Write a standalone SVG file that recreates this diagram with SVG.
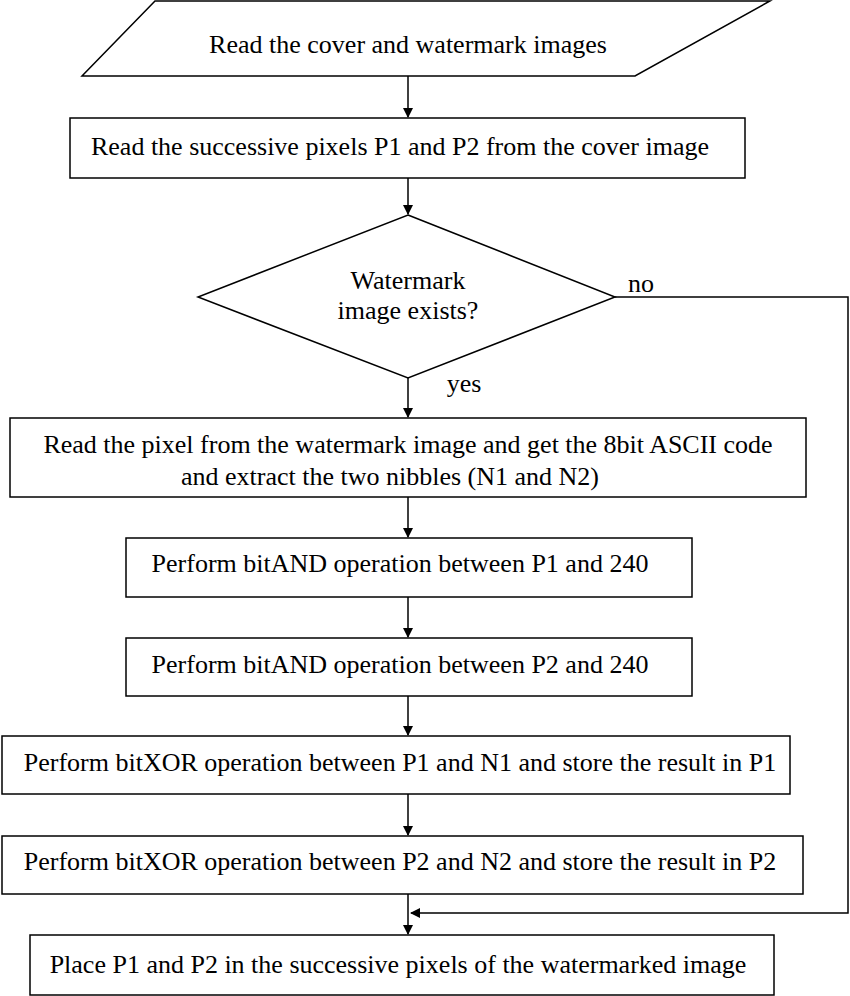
<svg xmlns="http://www.w3.org/2000/svg" width="850" height="996" viewBox="0 0 850 996">
<defs><marker id="a" markerWidth="10" markerHeight="10" refX="9" refY="5" orient="auto" markerUnits="userSpaceOnUse"><path d="M0,0L10,5L0,10z" fill="#000"/></marker></defs>
<style>.s{fill:#fff;stroke:#000;stroke-width:1.5}text{font-family:"Liberation Serif",serif;font-size:26px;text-anchor:middle}.c{stroke:#000;stroke-width:1.5;fill:none}</style>
<rect width="850" height="996" fill="#fff"/>
<g id="connectors">
<line class="c" x1="408" y1="76" x2="408" y2="117" marker-end="url(#a)"/>
<line class="c" x1="408" y1="178" x2="408" y2="214" marker-end="url(#a)"/>
<line class="c" x1="408" y1="378" x2="408" y2="417" marker-end="url(#a)"/>
<line class="c" x1="408" y1="497" x2="408" y2="537" marker-end="url(#a)"/>
<line class="c" x1="408" y1="597" x2="408" y2="637" marker-end="url(#a)"/>
<line class="c" x1="408" y1="696" x2="408" y2="735" marker-end="url(#a)"/>
<line class="c" x1="408" y1="794" x2="408" y2="835" marker-end="url(#a)"/>
<line class="c" x1="408" y1="894" x2="408" y2="934" marker-end="url(#a)"/>
<polyline class="c" points="615,297 848,297 848,913 411,913" marker-end="url(#a)"/>
<text x="641" y="292">no</text>
<text x="464" y="392">yes</text>
</g>
<g id="n1"><polygon class="s" points="155,1 770,1 635,76 82,76"/><text x="408" y="53">Read the cover and watermark images</text></g>
<g id="n2"><rect class="s" x="70" y="118" width="675" height="60"/><text x="400" y="155">Read the successive pixels P1 and P2 from the cover image</text></g>
<g id="n3"><polygon class="s" points="408,215 615,297 408,378 198,297"/><text x="408" y="289">Watermark</text><text x="408" y="319">image exists?</text></g>
<g id="n4"><rect class="s" x="10" y="418" width="796" height="79"/><text x="408" y="453">Read the pixel from the watermark image and get the 8bit ASCII code</text><text x="390" y="485">and extract the two nibbles (N1 and N2)</text></g>
<g id="n5"><rect class="s" x="126" y="538" width="566" height="59"/><text x="400" y="572">Perform bitAND operation between P1 and 240</text></g>
<g id="n6"><rect class="s" x="126" y="638" width="566" height="58"/><text x="400" y="673">Perform bitAND operation between P2 and 240</text></g>
<g id="n7"><rect class="s" x="2" y="736" width="788" height="58"/><text x="400" y="771">Perform bitXOR operation between P1 and N1 and store the result in P1</text></g>
<g id="n8"><rect class="s" x="2" y="836" width="801" height="58"/><text x="400" y="870">Perform bitXOR operation between P2 and N2 and store the result in P2</text></g>
<g id="n9"><rect class="s" x="30" y="935" width="744" height="60"/><text x="398" y="973">Place P1 and P2 in the successive pixels of the watermarked image</text></g>
</svg>
